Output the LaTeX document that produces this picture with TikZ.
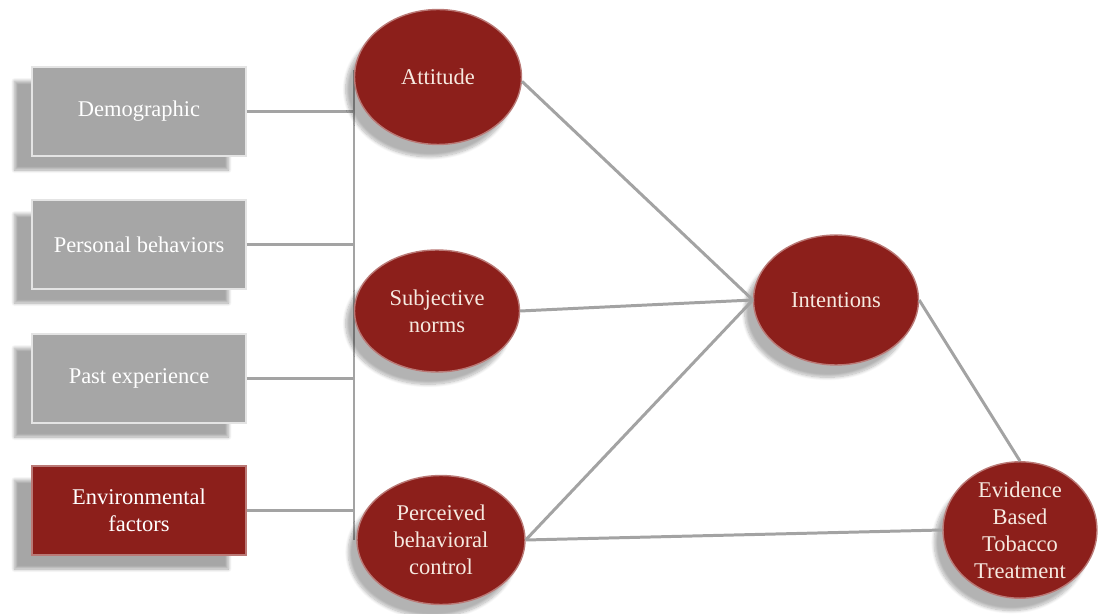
\documentclass[tikz,border=0pt]{standalone}
\usepackage{fontspec}
\setmainfont{Liberation Serif}
\usepackage{tikz}
\usetikzlibrary{shapes.geometric,shadows.blur}

\begin{document}
\begin{tikzpicture}[x=0.02cm,y=-0.02cm,
    every node/.style={font=\fontsize{12.8}{15.3}\selectfont, align=center},
    factor/.style={rectangle, draw=white!70!boxgray, line width=0.8pt, fill=boxgray,
        text=white, minimum width=4.28cm, minimum height=1.78cm, inner sep=0pt,
        blur shadow={shadow xshift=-10pt, shadow yshift=-8pt, shadow blur steps=10, shadow opacity=35}},
    construct/.style={ellipse, draw=deepred!60!white, line width=0.8pt, fill=deepred,
        text=cream, inner sep=0pt,
        blur shadow={shadow xshift=-5pt, shadow yshift=-7pt, shadow blur steps=10, shadow opacity=30}},
    link/.style={draw=linegray, line width=1.7pt}]
            % colours taken from the figure
            \definecolor{boxgray}{HTML}{A6A6A6}
            \definecolor{deepred}{HTML}{8C1F1B}
            \definecolor{cream}{HTML}{F6E9E0}
            \definecolor{linegray}{HTML}{A3A3A3}
            \useasboundingbox (0,0) rectangle (1099,614);
            % background factors
            \node[factor] (demo) at (139,111.5) {Demographic};
            \node[factor] (pers) at (139,244.5) {Personal behaviors};
            \node[factor] (past) at (139,378.5) {Past experience};
            \node[factor, fill=deepred, draw=deepred!60!white] (env) at (139,510.5) {Environmental\\factors};
            % bus line
            \coordinate (bustop) at (354,70);
            \coordinate (busbot) at (354,540);
            \draw[link] (bustop) -- (busbot);
            \draw[link] (demo.east) -- (demo.east -| bustop);
            \draw[link] (pers.east) -- (pers.east -| bustop);
            \draw[link] (past.east) -- (past.east -| bustop);
            \draw[link] (env.east) -- (env.east -| bustop);
            % model constructs
            \node[construct, minimum width=3.34cm, minimum height=2.7cm] (att) at (438,77) {Attitude};
            \node[construct, minimum width=3.3cm, minimum height=2.44cm] (norm) at (437,311) {Subjective\\norms};
            \node[construct, minimum width=3.36cm, minimum height=2.58cm] (pbc) at (441,540) {Perceived\\behavioral\\control};
            \node[construct, minimum width=3.3cm, minimum height=2.6cm] (int) at (836,300) {Intentions};
            \node[construct, minimum width=3.08cm, minimum height=2.58cm] (ebt) at (1020,530) {Evidence\\Based\\Tobacco\\Treatment};
            % paths
            \draw[link] (att.-3) -- (int.west);
            \draw[link] (norm.east) -- (int.west);
            \draw[link] (pbc.east) -- (int.west);
            \draw[link] (int.east) -- (ebt.north);
            \draw[link] (pbc.east) -- (ebt.west);
        \end{tikzpicture}
\end{document}
